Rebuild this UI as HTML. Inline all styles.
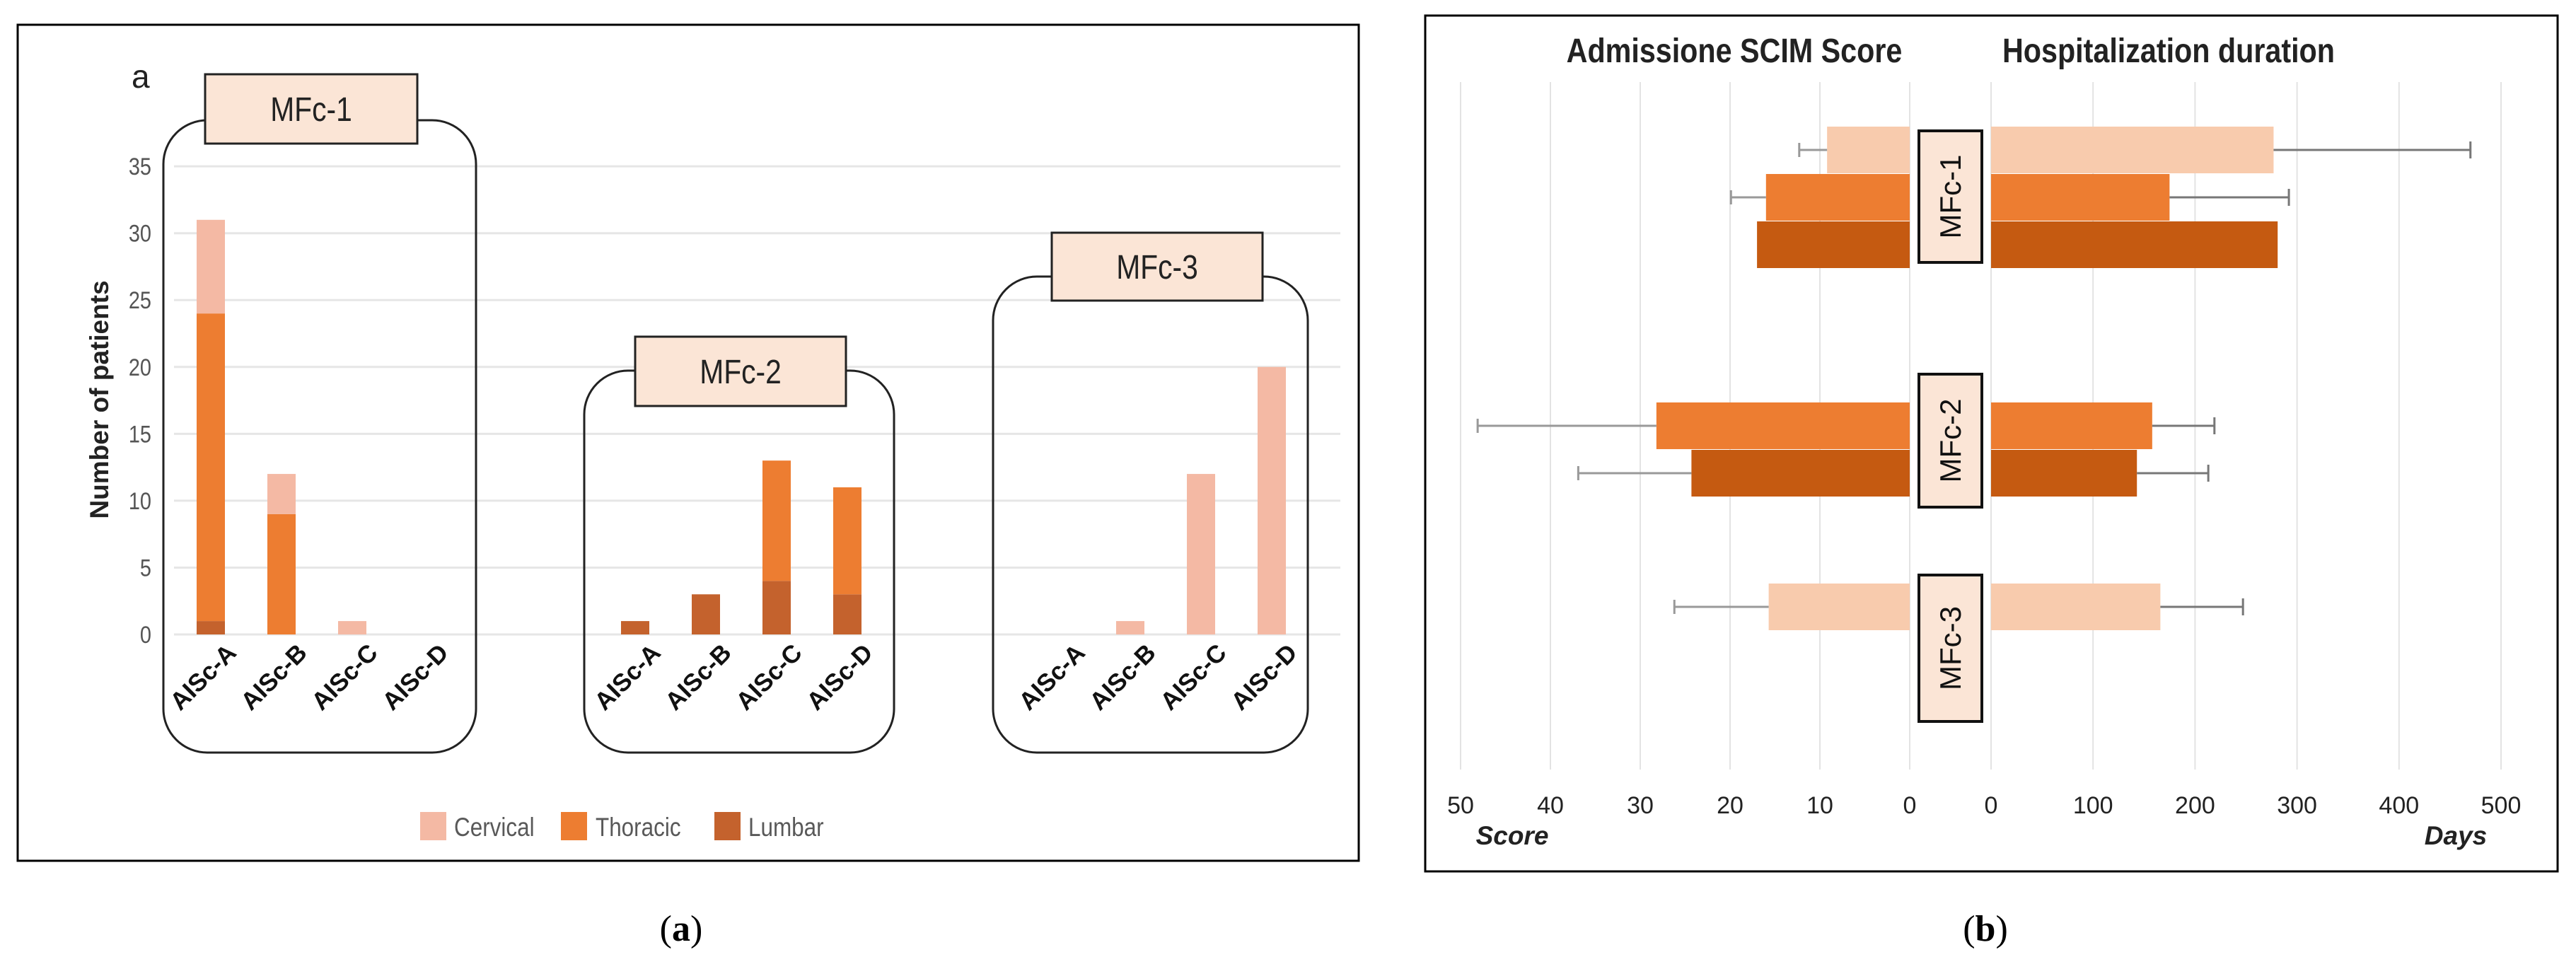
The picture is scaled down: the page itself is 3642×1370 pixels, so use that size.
<!DOCTYPE html>
<html><head><meta charset="utf-8"><style>
body{margin:0;background:#fff;}
svg{display:block;font-family:"Liberation Sans",sans-serif;}
</style></head><body>
<svg width="3642" height="1370" viewBox="0 0 3642 1370">
<g id="pa">
<rect x="25" y="35" width="1896" height="1182" fill="#fff" stroke="#000" stroke-width="3"/>
</g>
<g id="pb">
<rect x="2015" y="22" width="1601" height="1210" fill="#fff" stroke="#000" stroke-width="3"/>
</g>
<text x="963" y="1330" font-family="Liberation Serif,serif" font-size="52" text-anchor="middle">(<tspan font-weight="bold">a</tspan>)</text>
<text x="2807" y="1330" font-family="Liberation Serif,serif" font-size="52" text-anchor="middle">(<tspan font-weight="bold">b</tspan>)</text>
</svg>
<script>
const NS="http://www.w3.org/2000/svg";
function mk(parent,tag,attrs,txt){const e=document.createElementNS(NS,tag);for(const k in attrs)e.setAttribute(k,attrs[k]);if(txt!==undefined)e.textContent=txt;parent.appendChild(e);return e;}

// ===== Panel A data =====
const aGroups=["MFc-1","MFc-2","MFc-3"];
const aCats=["AISc-A","AISc-B","AISc-C","AISc-D"];
const aLumbar=[1,0,0,0, 1,3,4,3, 0,0,0,0];
const aThoracic=[23,9,0,0, 0,0,9,8, 0,0,0,0];
const aCervical=[7,3,1,0, 0,0,0,0, 0,1,12,20];
const aTicks=[0,5,10,15,20,25,30,35];
const aLegend=["Cervical","Thoracic","Lumbar"];

// ===== Panel B data =====
const bGroups=["MFc-1","MFc-2","MFc-3"];
const bScoreC=[9.2,null,15.7];
const bScoreCErr=[3.1,null,10.5];
const bScoreT=[16,28.2,null];
const bScoreTErr=[3.9,19.9,null];
const bScoreL=[17,24.3,null];
const bScoreLErr=[null,12.6,null];
const bDaysC=[277,null,166];
const bDaysCErr=[193,null,81];
const bDaysT=[175,158,null];
const bDaysTErr=[117,61,null];
const bDaysL=[281,143,null];
const bDaysLErr=[null,70,null];
const bScoreTicks=[50,40,30,20,10,0];
const bDaysTicks=[0,100,200,300,400,500];

const colA=["#f4b9a4","#ed7d31","#c4622d"];
const colB=["#f8cbad","#ed7d31","#c55a11"];

// ---- Panel A ----
const pa=document.getElementById('pa');
const y0=897, pu=18.91;
const ya=v=>y0-v*pu;
const xa=i=>298+100*i+200*Math.floor(i/4);
mk(pa,'text',{x:186,y:124,'font-size':46,fill:'#222',},'a');
aTicks.forEach(t=>{
  const l=mk(pa,'line',{x1:246,x2:1895,y1:ya(t),y2:ya(t),stroke:'#e6e6e6','stroke-width':3});
  
  
  const tx=mk(pa,'text',{x:214,y:ya(t)+12,'font-size':34,fill:'#555','text-anchor':'end',transform:`translate(214,0) scale(0.85,1) translate(-214,0)`},String(t));
  
  
});
const yt=mk(pa,'text',{transform:'translate(153,565) rotate(-90)','font-size':37,'font-weight':'bold','text-anchor':'middle',fill:'#222'},'Number of patients');


// group boxes
const boxes=[[231,170,442,894,[290,105,300,98]],[826,524,438,540,[898,476,298,98]],[1404,391,445,673,[1487,329,298,96]]];
boxes.forEach((b,g)=>{
  const r=mk(pa,'rect',{x:b[0],y:b[1],width:b[2],height:b[3],rx:62,ry:62,fill:'none',stroke:'#222','stroke-width':3});
  
  
  const lb=b[4];
  const lr=mk(pa,'rect',{x:lb[0],y:lb[1],width:lb[2],height:lb[3],fill:'#fbe5d6',stroke:'#222','stroke-width':3});
  
  
  const lt=mk(pa,'text',{x:lb[0]+lb[2]/2,y:lb[1]+lb[3]/2+17,'font-size':48,'text-anchor':'middle',fill:'#222',transform:`translate(${lb[0]+lb[2]/2},0) scale(0.85,1) translate(${-(lb[0]+lb[2]/2)},0)`},aGroups[g]);
  
  
});
// bars
for(let i=0;i<12;i++){
  const x=xa(i)-20;let base=0;
  [[aLumbar,2],[aThoracic,1],[aCervical,0]].forEach(([arr,c])=>{
    const v=arr[i];if(v>0){
      const r=mk(pa,'rect',{x:x,y:ya(base+v),width:40,height:v*pu,fill:colA[c]});
      
      
      base+=v;}
  });
  const t=mk(pa,'text',{transform:`translate(${xa(i)+38},925) rotate(-45)`,'font-size':35,'font-weight':'bold','text-anchor':'end',fill:'#111'},aCats[i%4]);
  
  
}
// legend
[[594,642],[793,842],[1010,1058]].forEach((p,c)=>{
  const s=mk(pa,'rect',{x:p[0],y:1148,width:37,height:40,fill:colA[c]});
  
  
  const t=mk(pa,'text',{x:p[1],y:1182,'font-size':37,fill:'#595959',transform:`translate(${p[1]},0) scale(0.85,1) translate(${-p[1]},0)`},aLegend[c]);
  
  
});

// ---- Panel B ----
const pb=document.getElementById('pb');
const xs=v=>2700-v*12.7;
const xd=v=>2815+v*1.442;
const yb=(g,s)=>212+323*g+67*s;
const bh=66;
bScoreTicks.forEach(t=>{
  const l=mk(pb,'line',{x1:xs(t),x2:xs(t),y1:116,y2:1088,stroke:'#e3e3e3','stroke-width':2});
  
  
  const tx=mk(pb,'text',{x:xs(t),y:1150,'font-size':34,'text-anchor':'middle',fill:'#222'},String(t));
  
  
});
bDaysTicks.forEach(t=>{
  const l=mk(pb,'line',{x1:xd(t),x2:xd(t),y1:116,y2:1088,stroke:'#e3e3e3','stroke-width':2});
  
  
  const tx=mk(pb,'text',{x:xd(t),y:1150,'font-size':34,'text-anchor':'middle',fill:'#222'},String(t));
  
  
});
let e;
e=mk(pb,'text',{x:2138,y:1194,'font-size':37,'font-weight':'bold','font-style':'italic','text-anchor':'middle',fill:'#222'},'Score');

e=mk(pb,'text',{x:3472,y:1194,'font-size':37,'font-weight':'bold','font-style':'italic','text-anchor':'middle',fill:'#222'},'Days');

e=mk(pb,'text',{x:2452,y:88,'font-size':48,'font-weight':'bold','text-anchor':'middle',fill:'#222',transform:'translate(2452,0) scale(0.86,1) translate(-2452,0)'},'Admissione  SCIM Score');

e=mk(pb,'text',{x:3066,y:88,'font-size':48,'font-weight':'bold','text-anchor':'middle',fill:'#222',transform:'translate(3066,0) scale(0.86,1) translate(-3066,0)'},'Hospitalization duration');

const series=[[bScoreC,bScoreCErr,bDaysC,bDaysCErr],[bScoreT,bScoreTErr,bDaysT,bDaysTErr],[bScoreL,bScoreLErr,bDaysL,bDaysLErr]];
const sn=["cervical","thoracic","lumbar"];
for(let g=0;g<3;g++){
  series.forEach((s,si)=>{
    const v=s[0][g];if(v===null)return;
    const yc=yb(g,si), yt=yc-bh/2;
    let r=mk(pb,'rect',{x:xs(v),y:yt,width:xs(0)-xs(v),height:bh,fill:colB[si]});
    
    
    const dv=s[2][g];
    r=mk(pb,'rect',{x:xd(0),y:yt,width:xd(dv)-xd(0),height:bh,fill:colB[si]});
    
    
    const se=s[1][g];
    if(se!==null){
      const l=mk(pb,'path',{d:`M${xs(v)},${yc}H${xs(v+se)}M${xs(v+se)},${yc-10}V${yc+10}`,stroke:'#999','stroke-width':3,fill:'none'});
      
      
    }
    const de=s[3][g];
    if(de!==null){
      const l=mk(pb,'path',{d:`M${xd(dv)},${yc}H${xd(dv+de)}M${xd(dv+de)},${yc-12}V${yc+12}`,stroke:'#777','stroke-width':3,fill:'none'});
      
      
    }
  });
}
const lbl=[[185,186],[529,188],[813,207]];
lbl.forEach((p,g)=>{
  const r=mk(pb,'rect',{x:2713,y:p[0],width:89,height:p[1],fill:'#fbe5d6',stroke:'#111','stroke-width':4});
  
  
  const cy=p[0]+p[1]/2;
  const t=mk(pb,'text',{transform:`translate(2772,${cy}) rotate(-90)`,'font-size':42,'text-anchor':'middle',fill:'#111'},bGroups[g]);
  
  
});
</script>
</body></html>
